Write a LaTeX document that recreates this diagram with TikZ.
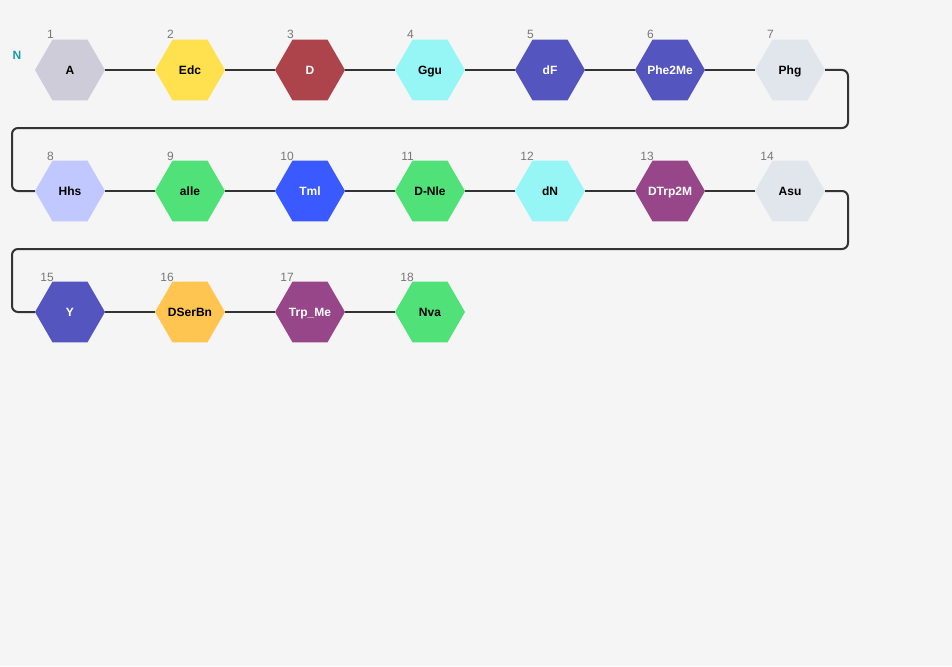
\documentclass[tikz,border=0pt]{standalone}
\usepackage{fontspec}
\setmainfont{Liberation Sans}
\usetikzlibrary{shapes.geometric}
\definecolor{bg}{HTML}{F5F5F5}
\definecolor{linec}{HTML}{333333}
\definecolor{numc}{HTML}{777777}
\definecolor{nc}{HTML}{1A9AA8}
\definecolor{cA}{HTML}{CDCCD8}
\definecolor{cEdc}{HTML}{FFE14F}
\definecolor{cD}{HTML}{AD444C}
\definecolor{cCy}{HTML}{96F5F5}
\definecolor{cBl}{HTML}{5555C0}
\definecolor{cGr}{HTML}{E1E5EC}
\definecolor{cHhs}{HTML}{C0C8FF}
\definecolor{cGn}{HTML}{50E278}
\definecolor{cTml}{HTML}{3A5AFF}
\definecolor{cPu}{HTML}{98468A}
\definecolor{cOr}{HTML}{FFC550}
\tikzset{
  hexa/.style={regular polygon, regular polygon sides=6, minimum size=70pt, inner sep=0pt},
  txt/.style={anchor=base, inner sep=0pt, font=\bfseries\fontsize{12}{14}\selectfont},
  numlab/.style={anchor=base east, inner sep=0pt, text=numc, font=\fontsize{12}{14}\selectfont},
  conn/.style={draw=linec, line width=2pt},
  wrap/.style={conn, rounded corners=6pt}
}
\begin{document}
\begin{tikzpicture}[x=1pt,y=-1pt]
\fill[bg] (0,0) rectangle (952,666);
\useasboundingbox (0,0) rectangle (952,666);
\node[anchor=base, inner sep=0pt, text=nc, font=\bfseries\fontsize{12}{14}\selectfont] (nterm) at (17,60) {N};
\coordinate (w1r) at (848,128);
\coordinate (w1l) at (12,128);
\coordinate (w2r) at (848,249);
\coordinate (w2l) at (12,249);
\foreach \i/\x/\y/\c/\t/\s in {
  1/70/70/cA/black/A, 2/190/70/cEdc/black/Edc, 3/310/70/cD/white/D,
  4/430/70/cCy/black/Ggu, 5/550/70/cBl/white/dF, 6/670/70/cBl/white/Phe2Me,
  7/790/70/cGr/black/Phg,
  8/70/191/cHhs/black/Hhs, 9/190/191/cGn/black/alle, 10/310/191/cTml/white/Tml,
  11/430/191/cGn/black/D-Nle, 12/550/191/cCy/black/dN, 13/670/191/cPu/white/DTrp2M,
  14/790/191/cGr/black/Asu,
  15/70/312/cBl/white/Y, 16/190/312/cOr/black/DSerBn, 17/310/312/cPu/white/Trp\_Me,
  18/430/312/cGn/black/Nva}
{
  \node[hexa, fill=\c] (n\i) at (\x,\y) {};
  \node[txt, text=\t] (t\i) at (\x,\y+4.3) {\s};
  \node[numlab] (lab\i) at (\x-16,\y-31) {\i};
}
\foreach \a/\b in {1/2,2/3,3/4,4/5,5/6,6/7,8/9,9/10,10/11,11/12,12/13,13/14,15/16,16/17,17/18}
  \draw[conn] (n\a.east) -- (n\b.west);
\draw[wrap] (n7.east) -| (w1r) -- (w1l) |- (n8.west);
\draw[wrap] (n14.east) -| (w2r) -- (w2l) |- (n15.west);
\end{tikzpicture}
\end{document}
